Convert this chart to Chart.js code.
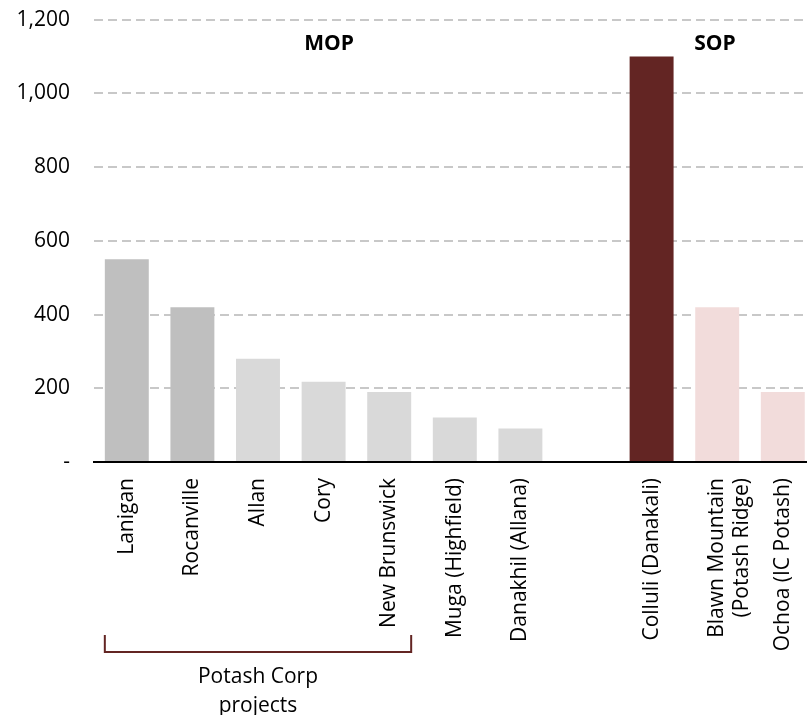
<!DOCTYPE html>
<html>
<head>
<meta charset="utf-8">
<script src="https://cdn.jsdelivr.net/npm/chart.js@4"></script>
<style>
  html, body { margin: 0; padding: 0; background: #fff; overflow: hidden; }
  /* canvas shifted up so the plot top lands at y=20 */
  #wrap { width: 816px; height: 732px; position: relative; margin-top: -17px; }
</style>
</head>
<body>
<div id="wrap"><canvas id="barChart"></canvas></div>
<script>
// potash projects, capex-ish values
const projects = [
  "Lanigan", "Rocanville", "Allan", "Cory", "New Brunswick",
  "Muga (Highfield)", "Danakhil (Allana)", "",
  "Colluli (Danakali)", ["Blawn Mountain", "(Potash Ridge)"], "Ochoa (IC Potash)"
];
const values = [550, 420, 280, 218, 190, 121, 91, null, 1100, 420, 190];
const barColors = [
  "#bfbfbf", "#bfbfbf", "#d9d9d9", "#d9d9d9", "#d9d9d9",
  "#d9d9d9", "#d9d9d9", "#ffffff",
  "#632523", "#f2dcdb", "#f2dcdb"
];
const yTicks = [0, 200, 400, 600, 800, 1000, 1200];

const FONT = "'Open Sans', sans-serif";
const SIZE = 21;
const OFF = 17; // canvas offset

// MOP / SOP headers and the Potash Corp bracket
const extras = {
  id: "extras",
  afterDraw(chart) {
    const ctx = chart.ctx;
    const x = chart.scales.x;
    const step = x.getPixelForValue(1) - x.getPixelForValue(0);
    const barHalf = step * 0.67 / 2;
    ctx.save();
    ctx.fillStyle = "#000";
    ctx.font = "bold " + SIZE + "px " + FONT;
    ctx.textAlign = "center";
    ctx.textBaseline = "middle";
    ctx.fillText("MOP", 329, 44 + OFF);
    ctx.fillText("SOP", 715, 44 + OFF);

    const left = x.getPixelForValue(0) - barHalf;
    const right = x.getPixelForValue(4) + barHalf;
    ctx.strokeStyle = "#632523";
    ctx.lineWidth = 2;
    ctx.beginPath();
    ctx.moveTo(left, 635 + OFF);
    ctx.lineTo(left, 652 + OFF);
    ctx.lineTo(right, 652 + OFF);
    ctx.lineTo(right, 635 + OFF);
    ctx.stroke();

    ctx.font = SIZE + "px " + FONT;
    ctx.fillText("Potash Corp", (left + right) / 2, 677 + OFF);
    ctx.fillText("projects", (left + right) / 2, 706 + OFF);
    ctx.restore();
  }
};

new Chart(document.getElementById("barChart").getContext("2d"), {
  type: "bar",
  data: {
    labels: projects,
    datasets: [{
      data: values,
      backgroundColor: barColors,
      barPercentage: 0.67,
      categoryPercentage: 1.0
    }]
  },
  options: {
    responsive: true,
    maintainAspectRatio: false,
    animation: false,
    layout: { padding: { top: 4, right: 0, bottom: 0, left: 0 } },
    plugins: { legend: { display: false }, tooltip: { enabled: false } },
    scales: {
      x: {
        afterFit(scale) { scale.height = 715 - 462; },
        grid: { display: false },
        border: { display: true, color: "#000", width: 2 },
        ticks: {
          color: "#000",
          font: { family: FONT, size: SIZE },
          minRotation: 90,
          maxRotation: 90,
          padding: 8,
          autoSkip: false
        }
      },
      y: {
        min: 0,
        max: 1200,
        afterFit(scale) { scale.width = 94; },
        afterBuildTicks(scale) { scale.ticks = yTicks.map(v => ({ value: v })); },
        border: { display: false, dash: [9, 5] },
        grid: { color: "#c8c8c8", lineWidth: 2, drawTicks: false },
        ticks: {
          color: "#000",
          font: { family: FONT, size: SIZE },
          padding: 24,
          callback: v => v === 0 ? "-" : v.toLocaleString("en-US")
        }
      }
    }
  },
  plugins: [extras]
});
</script>
</body>
</html>
